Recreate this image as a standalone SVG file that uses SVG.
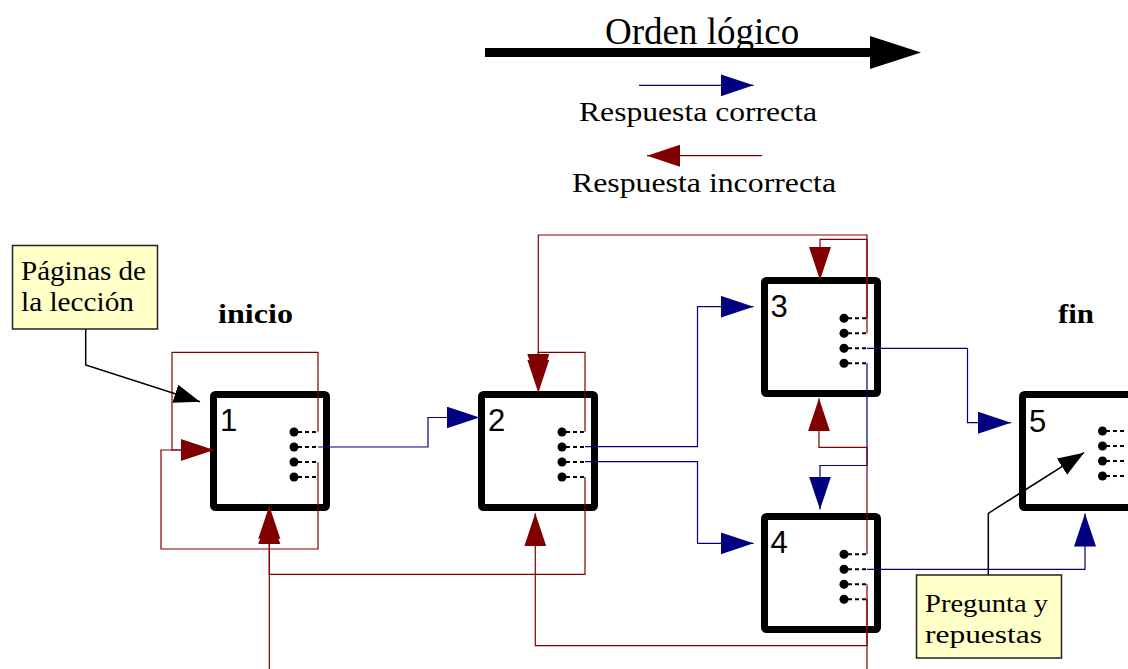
<svg xmlns="http://www.w3.org/2000/svg" width="1128" height="669" viewBox="0 0 1128 669">
<defs>
<style>
.box{fill:#fff;stroke:#000;stroke-width:7}
.dot{fill:#000}
.dash{stroke:#000;stroke-width:2;stroke-dasharray:4 3;fill:none}
.num{font-family:"Liberation Sans",Arial,sans-serif;font-size:31px;fill:#000}
.serif{font-family:"Liberation Serif","Times New Roman",serif;fill:#000}
.ok{fill:none;stroke:#000080;stroke-width:1.2;marker-end:url(#ab)}
.ko{fill:none;stroke:#800000;stroke-width:1.2;marker-end:url(#ar)}
.ptr{fill:none;stroke:#000;stroke-width:1.5;marker-end:url(#ak)}
.note{fill:#ffffc8;stroke:#222;stroke-width:1.5}
</style>
<marker id="ab" markerUnits="userSpaceOnUse" viewBox="0 0 34 24" markerWidth="34" markerHeight="24" refX="33" refY="11" orient="auto"><path d="M0,0 L33,11 L0,22 z" fill="#000080"/></marker>
<marker id="ar" markerUnits="userSpaceOnUse" viewBox="0 0 34 24" markerWidth="34" markerHeight="24" refX="33" refY="11" orient="auto"><path d="M0,0 L33,11 L0,22 z" fill="#800000"/></marker>
<marker id="ak" markerUnits="userSpaceOnUse" viewBox="0 0 27 20" markerWidth="27" markerHeight="20" refX="26" refY="9.5" orient="auto"><path d="M0,0 L26,9.5 L0,19 z" fill="#000"/></marker>
</defs>
<rect width="1128" height="669" fill="#fff"/>

<g id="legend">
<line x1="485" y1="52.5" x2="874" y2="52.5" stroke="#000" stroke-width="9"/>
<polygon points="870,36 921,52.5 870,69" fill="#000"/>
<text class="serif" x="605" y="44" font-size="37">Orden lógico</text>
<path class="ok" d="M639,85.3 H753.5"/>
<text class="serif" x="579" y="121" font-size="27" textLength="238" lengthAdjust="spacingAndGlyphs">Respuesta correcta</text>
<path class="ko" d="M762,155.7 H647"/>
<text class="serif" x="572" y="192" font-size="27" textLength="264" lengthAdjust="spacingAndGlyphs">Respuesta incorrecta</text>
</g>

<g id="label-inicio"><text class="serif" x="218" y="323" font-size="28" font-weight="bold" textLength="75" lengthAdjust="spacingAndGlyphs">inicio</text></g>
<g id="label-fin"><text class="serif" x="1058" y="323" font-size="28" font-weight="bold" textLength="36" lengthAdjust="spacingAndGlyphs">fin</text></g>

<g id="node1">
<rect class="box" x="213.5" y="394.5" width="113" height="113" rx="2"/>
<text class="num" x="220" y="431">1</text>
<circle class="dot" cx="294" cy="432" r="4.5"/><circle class="dot" cx="294" cy="447" r="4.5"/><circle class="dot" cx="294" cy="462" r="4.5"/><circle class="dot" cx="294" cy="477" r="4.5"/>
<path class="dash" d="M298,432 H318 M298,447 H318 M298,462 H318 M298,477 H318"/>
</g>
<g id="node2">
<rect class="box" x="481.5" y="394.5" width="113" height="113" rx="2"/>
<text class="num" x="488" y="431">2</text>
<circle class="dot" cx="562" cy="432" r="4.5"/><circle class="dot" cx="562" cy="447" r="4.5"/><circle class="dot" cx="562" cy="462" r="4.5"/><circle class="dot" cx="562" cy="477" r="4.5"/>
<path class="dash" d="M566,432 H585 M566,447 H585 M566,462 H585 M566,477 H585"/>
</g>
<g id="node3">
<rect class="box" x="764.5" y="280.5" width="113" height="113" rx="2"/>
<text class="num" x="770.5" y="317">3</text>
<circle class="dot" cx="844" cy="318.3" r="4.5"/><circle class="dot" cx="844" cy="333.3" r="4.5"/><circle class="dot" cx="844" cy="348.3" r="4.5"/><circle class="dot" cx="844" cy="363.3" r="4.5"/>
<path class="dash" d="M848,318.3 H867 M848,333.3 H867 M848,348.3 H867 M848,363.3 H867"/>
</g>
<g id="node4">
<rect class="box" x="764.5" y="516.5" width="113" height="113" rx="2"/>
<text class="num" x="770.5" y="553">4</text>
<circle class="dot" cx="844" cy="554.3" r="4.5"/><circle class="dot" cx="844" cy="569.3" r="4.5"/><circle class="dot" cx="844" cy="584.3" r="4.5"/><circle class="dot" cx="844" cy="599.3" r="4.5"/>
<path class="dash" d="M848,554.3 H867 M848,569.3 H867 M848,584.3 H867 M848,599.3 H867"/>
</g>
<g id="node5">
<rect class="box" x="1022.5" y="394.5" width="113" height="113" rx="2"/>
<text class="num" x="1029" y="431.5">5</text>
<circle class="dot" cx="1102.5" cy="431" r="4.5"/><circle class="dot" cx="1102.5" cy="446" r="4.5"/><circle class="dot" cx="1102.5" cy="461" r="4.5"/><circle class="dot" cx="1102.5" cy="476" r="4.5"/>
<path class="dash" d="M1106,431 H1126 M1106,446 H1126 M1106,461 H1126 M1106,476 H1126"/>
</g>

<g id="connectors">
<path class="ok" d="M318,447 H428 V417.5 H479.5"/>
<path class="ok" d="M585,446.7 H697.5 V306.7 H753.5"/>
<path class="ok" d="M585,461.7 H697.5 V543.3 H753.5"/>
<path class="ok" d="M867,348.3 H967.5 V422.7 H1011"/>
<path class="ok" d="M867,363.3 V465.5 H820 V509.5"/>
<path class="ok" d="M867,569.3 H1085 V513.5"/>
<path class="ko" d="M318,431.7 V352.3 H172 V450 H213.5"/>
<path class="ko" d="M318,462.3 V549 H161 V450 H213.5"/>
<path class="ko" d="M585,477 V574.3 H269.3 V511"/>
<path class="ko" d="M867,599.3 V700 H269.3 V505.7"/>
<path class="ko" d="M585,431.7 V352.3 H538.3 V392.7"/>
<path class="ko" d="M867,333.3 V235 H538.3 V387"/>
<path class="ko" d="M867,318.3 V239.3 H820 V280"/>
<path class="ko" d="M867,554.3 V447.3 H819 V398.3"/>
<path class="ko" d="M867,584.3 V645.7 H535.3 V513.3"/>
<path class="ptr" d="M85.7,329 V365 L200,401.7"/>
<path class="ptr" d="M988.3,575 V513.3 L1084,452.7"/>
</g>

<g id="note-paginas">
<rect class="note" x="12.5" y="245.5" width="145" height="83.5"/>
<text class="serif" x="21" y="280" font-size="27" textLength="125" lengthAdjust="spacingAndGlyphs">Páginas de</text>
<text class="serif" x="21" y="311" font-size="27" textLength="113" lengthAdjust="spacingAndGlyphs">la lección</text>
</g>
<g id="note-pregunta">
<rect class="note" x="916.5" y="575" width="145" height="83"/>
<text class="serif" x="925" y="611.5" font-size="26" textLength="123" lengthAdjust="spacingAndGlyphs">Pregunta y</text>
<text class="serif" x="925" y="643" font-size="26" textLength="117" lengthAdjust="spacingAndGlyphs">repuestas</text>
</g>
</svg>
